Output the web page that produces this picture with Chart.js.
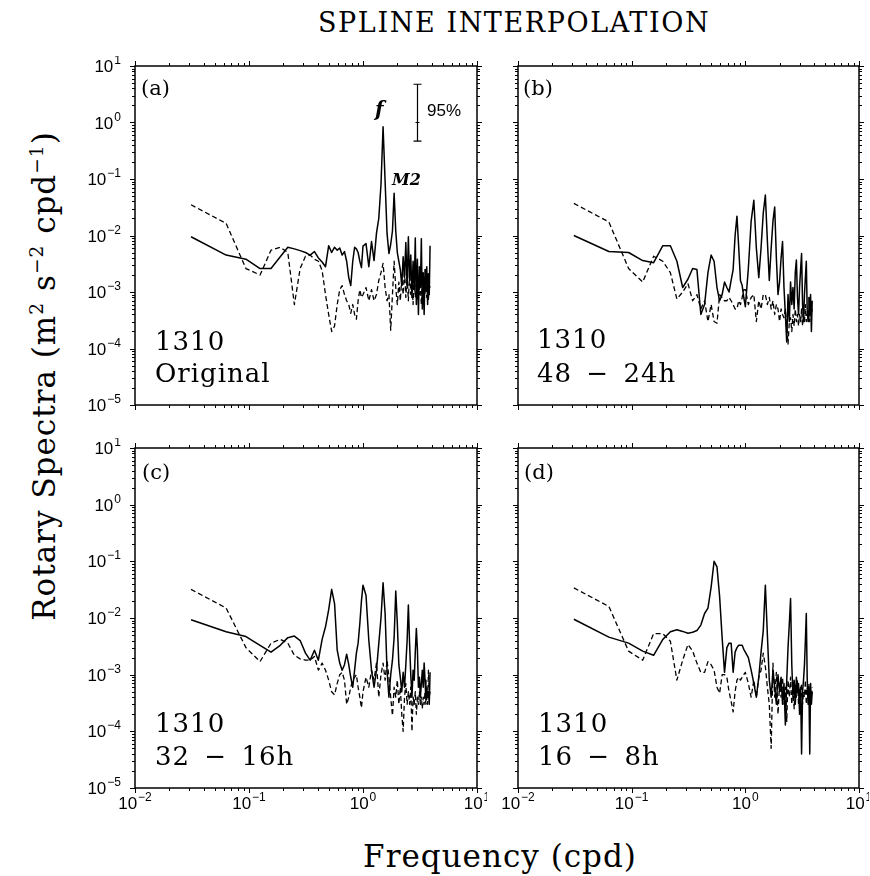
<!DOCTYPE html>
<html>
<head>
<meta charset="utf-8">
<script src="https://cdn.jsdelivr.net/npm/chart.js@4.4.1/dist/chart.umd.min.js"></script>
<style>
  body { margin: 0; background: #fff; width: 870px; height: 876px; position: relative; overflow: hidden; color: #000; }
  canvas { position: absolute; }
  .t { position: absolute; white-space: pre; line-height: 1; font-family: "DejaVu Serif", serif; }
  .lab { font-size: 26px; letter-spacing: 1px; word-spacing: 5px; }
  .pl { font-size: 21px; }
</style>
</head>
<body>
<div class="t" style="left:318px;top:9px;font-size:27px;letter-spacing:1.6px">SPLINE INTERPOLATION</div>
<div class="t" style="left:500px;top:841px;font-size:31px;letter-spacing:1px;transform:translateX(-50%)">Frequency (cpd)</div>
<div class="t" style="left:44px;top:376px;font-size:31px;letter-spacing:1px;transform:translate(-50%,-50%) rotate(-90deg)">Rotary Spectra (m<sup style="font-size:60%">2</sup> s<sup style="font-size:60%">−2</sup> cpd<sup style="font-size:60%">−1</sup>)</div>

<canvas id="ca" width="402" height="379" style="left:85px;top:56px"></canvas>
<canvas id="cb" width="401" height="379" style="left:468px;top:56px"></canvas>
<canvas id="cc" width="402" height="380" style="left:85px;top:438px"></canvas>
<canvas id="cd" width="401" height="380" style="left:468px;top:438px"></canvas>

<div class="t pl" style="left:141px;top:78px">(a)</div>
<div class="t pl" style="left:523px;top:78px">(b)</div>
<div class="t pl" style="left:142px;top:462px">(c)</div>
<div class="t pl" style="left:524px;top:462px">(d)</div>

<div class="t lab" style="left:155px;top:328px">1310</div>
<div class="t lab" style="left:155px;top:360px">Original</div>
<div class="t lab" style="left:537px;top:326px">1310</div>
<div class="t lab" style="left:537px;top:360px">48 − 24h</div>
<div class="t lab" style="left:155px;top:710px">1310</div>
<div class="t lab" style="left:155px;top:743px">32 − 16h</div>
<div class="t lab" style="left:538px;top:710px">1310</div>
<div class="t lab" style="left:538px;top:743px">16 − 8h</div>

<div class="t" style="left:375px;top:99px;font-size:20px;font-weight:bold;font-style:italic">f</div>
<div class="t" style="left:392px;top:172px;font-size:16px;font-weight:bold;font-style:italic">M2</div>
<div class="t" style="left:427px;top:102px;font-size:17px;font-family:'Liberation Sans',Arial,sans-serif">95%</div>

<script>
// 周波数 (cpd)
const freq = [
  0.031, 0.063, 0.094, 0.125, 0.156, 0.188, 0.219, 0.25,
  0.281, 0.313, 0.344, 0.375, 0.406, 0.438, 0.469, 0.5,
  0.531, 0.563, 0.594, 0.625, 0.656, 0.688, 0.719, 0.75,
  0.781, 0.813, 0.844, 0.875, 0.906, 0.938, 0.969, 1.0,
  1.063, 1.125, 1.188, 1.25, 1.313, 1.375, 1.438, 1.5,
  1.563, 1.625, 1.688, 1.75, 1.813, 1.875, 1.938, 2.0,
  2.063, 2.125, 2.188, 2.25, 2.313, 2.375, 2.438, 2.5,
  2.563, 2.625, 2.688, 2.75, 2.813, 2.875, 2.938, 3.0,
  3.063, 3.125, 3.188, 3.25, 3.313, 3.375, 3.438, 3.5,
  3.563, 3.625, 3.688, 3.75, 3.813, 3.875
];

// (a) Original
const aSolid = [
  0.0095, 0.0045, 0.0038, 0.0026, 0.0026, 0.0042, 0.0062, 0.0058,
  0.0054, 0.005, 0.0045, 0.0052, 0.004, 0.0034, 0.0028, 0.0066,
  0.005, 0.0062, 0.0055, 0.006, 0.0045, 0.0052, 0.0035, 0.0018,
  0.0013, 0.0035, 0.0062, 0.0058, 0.005, 0.0035, 0.0027, 0.0065,
  0.0072, 0.0028, 0.0078, 0.0036, 0.011, 0.02, 0.08, 0.84,
  0.09, 0.011, 0.0048, 0.007, 0.012, 0.056, 0.012, 0.005,
  0.0035, 0.0025, 0.0013, 0.0042, 0.0018, 0.0075, 0.0012, 0.0095,
  0.0016, 0.0045, 0.0008, 0.0035, 0.0011, 0.009, 0.0006, 0.0038,
  0.0004, 0.0028, 0.0012, 0.0088, 0.0005, 0.0022, 0.0004, 0.0025,
  0.0011, 0.0028, 0.0006, 0.0021, 0.0009, 0.0066
];
const aDashed = [
  0.035, 0.0164, 0.0026, 0.002, 0.0055, 0.0062, 0.005, 0.0006,
  0.0026, 0.0043, 0.0045, 0.0038, 0.0035, 0.0024, 0.0009, 0.0004,
  0.0002, 0.00025, 0.0006, 0.0011, 0.0013, 0.0009, 0.0007, 0.0006,
  0.00042, 0.0006, 0.0004, 0.00033, 0.0007, 0.0011, 0.0008, 0.0009,
  0.0012, 0.0007, 0.0011, 0.0007, 0.0009, 0.0016, 0.0022, 0.0032,
  0.0012, 0.0007, 0.0009, 0.00021, 0.0009, 0.0035, 0.0012, 0.0006,
  0.0015, 0.0007, 0.0018, 0.0009, 0.0025, 0.0008, 0.0019, 0.0007,
  0.0022, 0.0009, 0.0016, 0.0006, 0.0021, 0.0008, 0.0014, 0.0007,
  0.0019, 0.0009, 0.0013, 0.0006, 0.0017, 0.0008, 0.0015, 0.0009,
  0.0018, 0.0008, 0.0013, 0.0007, 0.0016, 0.0012
];

// (b) 48 - 24h
const bSolid = [
  0.01, 0.0052, 0.005, 0.0036, 0.0033, 0.0066, 0.0066, 0.0035,
  0.0012, 0.0017, 0.0026, 0.0025, 0.0004, 0.0006, 0.0022, 0.0045,
  0.0035, 0.0012, 0.0007, 0.0009, 0.0015, 0.0012, 0.001, 0.0016,
  0.0025, 0.01, 0.022, 0.006, 0.0016, 0.0013, 0.0008, 0.00055,
  0.0026, 0.018, 0.042, 0.006, 0.0018, 0.006, 0.025, 0.052,
  0.008, 0.0016, 0.006, 0.018, 0.032, 0.004, 0.0009, 0.0015,
  0.004, 0.0078, 0.0012, 0.0004, 0.00013, 0.0009, 0.0003, 0.0015,
  0.0006, 0.0012, 0.0005, 0.0022, 0.0037, 0.0008, 0.0004, 0.0012,
  0.0025, 0.0048, 0.0006, 0.0003, 0.0009, 0.0018, 0.0035, 0.0005,
  0.0003, 0.0008, 0.0004, 0.0009, 0.0002, 0.0007
];
const bDashed = [
  0.037, 0.0174, 0.0026, 0.0015, 0.0043, 0.0035, 0.0022, 0.00075,
  0.001, 0.0014, 0.0007, 0.0009, 0.0005, 0.0007, 0.0003, 0.0006,
  0.0003, 0.00028, 0.0009, 0.0008, 0.0007, 0.0007, 0.0008, 0.0007,
  0.0006, 0.0005, 0.0005, 0.0007, 0.0006, 0.0008, 0.0011, 0.0011,
  0.0006, 0.0008, 0.0009, 0.0003, 0.0007, 0.0005, 0.0009, 0.0009,
  0.0006, 0.0008, 0.0005, 0.0007, 0.0004, 0.0006, 0.0005, 0.0003,
  0.0005, 0.0004, 0.00035, 0.0005, 0.00025, 0.00012, 0.0003, 0.00035,
  0.0002, 0.0004, 0.00025, 0.0005, 0.0003, 0.0004, 0.00025, 0.0004,
  0.0003, 0.0005, 0.00025, 0.0004, 0.0003, 0.0006, 0.0003, 0.0004,
  0.00035, 0.0005, 0.0003, 0.0006, 0.0004, 0.0005
];

// (c) 32 - 16h
const cSolid = [
  0.0093, 0.0057, 0.0047, 0.0033, 0.0025, 0.0033, 0.0045, 0.0048,
  0.004, 0.0024, 0.0018, 0.0027, 0.0018, 0.0042, 0.007, 0.014,
  0.032, 0.018, 0.0027, 0.0016, 0.0012, 0.0015, 0.0023, 0.0015,
  0.0009, 0.0006, 0.0012, 0.0024, 0.0036, 0.008, 0.02, 0.038,
  0.025, 0.004, 0.0012, 0.0006, 0.0012, 0.0035, 0.01, 0.042,
  0.012, 0.0012, 0.0004, 0.001, 0.0018, 0.0045, 0.03, 0.008,
  0.0015, 0.0009, 0.0005, 0.0011, 0.0006, 0.0015, 0.004, 0.017,
  0.0035, 0.001, 0.0004, 0.0012, 0.0008, 0.0025, 0.0065, 0.0028,
  0.0006, 0.0009, 0.0004, 0.0007, 0.0012, 0.0006, 0.0016, 0.0008,
  0.00035, 0.0006, 0.0004, 0.0005, 0.0003, 0.0011
];
const cDashed = [
  0.032, 0.015, 0.003, 0.0017, 0.0036, 0.0042, 0.0036, 0.0022,
  0.0019, 0.0018, 0.0018, 0.0021, 0.0012, 0.0016, 0.0012, 0.0008,
  0.0005, 0.00044, 0.0007, 0.001, 0.0011, 0.0008, 0.0003, 0.0004,
  0.0006, 0.0008, 0.0009, 0.001, 0.0006, 0.0004, 0.00026, 0.0005,
  0.0009, 0.0006, 0.0012, 0.0008, 0.0016, 0.0004, 0.001, 0.0016,
  0.0008, 0.0018, 0.0009, 0.0004, 0.00019, 0.0006, 0.0004, 0.0008,
  0.0003, 0.0006, 0.0002, 0.0001, 0.0004, 0.0007, 0.0003, 0.0005,
  0.0003, 0.0006, 0.0001, 0.0004, 0.0003, 0.0005, 0.0002, 0.0004,
  0.0003, 0.0005, 0.0003, 0.0004, 0.00025, 0.0004, 0.0003, 0.0005,
  0.0003, 0.0004, 0.0003, 0.0012, 0.0004, 0.0005
];

// (d) 16 - 8h
const dSolid = [
  0.0095, 0.0046, 0.0036, 0.0026, 0.0022, 0.0042, 0.0057, 0.0062,
  0.0058, 0.0054, 0.0056, 0.006, 0.0075, 0.012, 0.015, 0.035,
  0.1, 0.08, 0.024, 0.0045, 0.0011, 0.003, 0.0036, 0.0036,
  0.0011, 0.0025, 0.003, 0.0033, 0.0033, 0.0033, 0.0028, 0.0025,
  0.002, 0.0012, 0.0007, 0.0004, 0.0009, 0.0025, 0.006, 0.038,
  0.005, 0.0008, 0.0004, 0.0012, 0.0006, 0.0003, 0.001, 0.0005,
  0.0009, 0.0003, 0.0007, 0.00013, 0.0008, 0.003, 0.008, 0.022,
  0.0015, 0.0004, 0.0008, 0.0003, 0.0009, 0.0005, 0.0007, 0.0002,
  0.0006, 0.00004, 0.0005, 0.0008, 0.0015, 0.004, 0.012, 0.0009,
  0.0003, 0.0006, 0.00004, 0.0007, 0.0003, 0.0005
];
const dDashed = [
  0.034, 0.016, 0.0026, 0.0018, 0.0053, 0.0053, 0.0039, 0.0008,
  0.0018, 0.0034, 0.0026, 0.0016, 0.0011, 0.0011, 0.0017, 0.0015,
  0.0012, 0.0006, 0.00047, 0.001, 0.001, 0.0009, 0.0005, 0.00034,
  0.00022, 0.0005, 0.0008, 0.0009, 0.0008, 0.0009, 0.001, 0.0011,
  0.0007, 0.0004, 0.0008, 0.0004, 0.0009, 0.0012, 0.0024, 0.0014,
  0.0006, 0.0003, 0.00005, 0.0016, 0.0004, 0.0011, 0.0002, 0.0007,
  0.0004, 0.0009, 0.0003, 0.0006, 0.00015, 0.0008, 0.0004, 0.0009,
  0.0003, 0.0006, 0.00025, 0.0007, 0.0004, 0.0008, 0.0003, 0.0006,
  0.0004, 0.0007, 0.0003, 0.0005, 0.0004, 0.0008, 0.0003, 0.0006,
  0.0004, 0.0007, 0.0003, 0.0005, 0.0004, 0.0006
];

// 軸の目盛り
const xTickValues = [0.01, 0.1, 1, 10];
const yTickValues = [1e-5, 1e-4, 1e-3, 1e-2, 1e-1, 1, 10];

// 95% 信頼区間のバー (a のみ)
const ciFreq = 3.0;
const ciLow = 0.47, ciMid = 1.0, ciHigh = 4.75;

const baseFont = "17px 'Liberation Sans', Arial, sans-serif";
const expFont = "12px 'Liberation Sans', Arial, sans-serif";

/**
 * 10^e 形式のラベルを上付き文字付きで描く
 */
function drawPow(ctx, x, baseline, v, align) {
    const e = String(Math.round(Math.log10(v))).replace('-', '−');
    ctx.font = baseFont;
    const wb = ctx.measureText('10').width;
    ctx.font = expFont;
    const we = ctx.measureText(e).width;
    const total = wb + 1 + we;
    const left = align === 'right' ? x - total : x - total / 2;
    ctx.font = baseFont;
    ctx.fillText('10', left, baseline);
    ctx.font = expFont;
    ctx.fillText(e, left + wb + 1, baseline - 8);
}

function toPoints(values) {
    return freq.map((f, i) => ({ x: f, y: values[i] }));
}

// 枠、外向きの目盛り線、目盛りラベル
const frameTicks = {
    id: 'frameTicks',
    afterDraw(chart, args, opts) {
        const { ctx, chartArea: a, scales: { x, y } } = chart;
        ctx.save();
        ctx.strokeStyle = '#000';
        ctx.lineWidth = 1.5;
        ctx.strokeRect(a.left, a.top, a.right - a.left, a.bottom - a.top);
        ctx.lineWidth = 1;
        ctx.beginPath();
        for (let e = -2; e <= 1; e++) {
            for (let m = 1; m <= 9; m++) {
                const v = m * Math.pow(10, e);
                if (v > 10.001) break;
                const px = Math.round(x.getPixelForValue(v)) + 0.5;
                const len = m === 1 ? 5 : 3;
                ctx.moveTo(px, a.bottom); ctx.lineTo(px, a.bottom + len);
                ctx.moveTo(px, a.top); ctx.lineTo(px, a.top - len);
            }
        }
        for (let e = -5; e <= 1; e++) {
            for (let m = 1; m <= 9; m++) {
                const v = m * Math.pow(10, e);
                if (v > 10.001) break;
                const py = Math.round(y.getPixelForValue(v)) + 0.5;
                const len = m === 1 ? 5 : 3;
                ctx.moveTo(a.left, py); ctx.lineTo(a.left - len, py);
                ctx.moveTo(a.right, py); ctx.lineTo(a.right + len, py);
            }
        }
        ctx.stroke();

        ctx.fillStyle = '#000';
        ctx.textBaseline = 'alphabetic';
        ctx.textAlign = 'left';
        if (opts.showY) {
            yTickValues.forEach(v => drawPow(ctx, a.left - 14, y.getPixelForValue(v) + 6, v, 'right'));
        }
        if (opts.showX) {
            xTickValues.forEach(v => drawPow(ctx, x.getPixelForValue(v), a.bottom + 21, v, 'center'));
        }
        ctx.restore();
    }
};

// 95% のエラーバー
const ciBar = {
    id: 'ciBar',
    afterDraw(chart) {
        const { ctx, scales: { x, y } } = chart;
        const px = Math.round(x.getPixelForValue(ciFreq)) + 0.5;
        const top = y.getPixelForValue(ciHigh);
        const mid = y.getPixelForValue(ciMid);
        const bot = y.getPixelForValue(ciLow);
        ctx.save();
        ctx.strokeStyle = '#000';
        ctx.lineWidth = 1.2;
        ctx.beginPath();
        ctx.moveTo(px, top); ctx.lineTo(px, bot);
        ctx.moveTo(px - 4, top); ctx.lineTo(px + 4, top);
        ctx.moveTo(px - 4, bot); ctx.lineTo(px + 4, bot);
        ctx.moveTo(px - 2, mid); ctx.lineTo(px + 2, mid);
        ctx.stroke();
        ctx.restore();
    }
};

function renderPanel(canvasId, solid, dashed, showX, showY, extra) {
    const canvas = document.getElementById(canvasId);
    if (!canvas) return;
    const ctx = canvas.getContext('2d');

    return new Chart(ctx, {
        type: 'line',
        data: {
            datasets: [{
                data: toPoints(solid),
                borderColor: '#000',
                borderWidth: 1.5,
                pointRadius: 0,
                tension: 0
            }, {
                data: toPoints(dashed),
                borderColor: '#000',
                borderWidth: 1.3,
                borderDash: [5, 3],
                pointRadius: 0,
                tension: 0
            }]
        },
        options: {
            responsive: false,
            animation: false,
            events: [],
            elements: { line: { borderJoinStyle: 'round' } },
            layout: { padding: { left: 0, top: 10, right: 10, bottom: 0 } },
            plugins: {
                legend: { display: false },
                tooltip: { enabled: false },
                frameTicks: { showX: showX, showY: showY }
            },
            scales: {
                x: {
                    type: 'logarithmic',
                    min: 0.01,
                    max: 10,
                    grid: { display: false, drawTicks: false },
                    border: { display: false },
                    ticks: { display: false },
                    afterBuildTicks: s => { s.ticks = xTickValues.map(v => ({ value: v })); },
                    afterFit: s => { s.height = 30; }
                },
                y: {
                    type: 'logarithmic',
                    min: 1e-5,
                    max: 10,
                    grid: { display: false, drawTicks: false },
                    border: { display: false },
                    ticks: { display: false },
                    afterBuildTicks: s => { s.ticks = yTickValues.map(v => ({ value: v })); },
                    afterFit: s => { s.width = 50; }
                }
            }
        },
        plugins: extra ? [frameTicks, extra] : [frameTicks]
    });
}

renderPanel('ca', aSolid, aDashed, false, true, ciBar);
renderPanel('cb', bSolid, bDashed, false, false);
renderPanel('cc', cSolid, cDashed, true, true);
renderPanel('cd', dSolid, dDashed, true, false);
</script>
</body>
</html>
